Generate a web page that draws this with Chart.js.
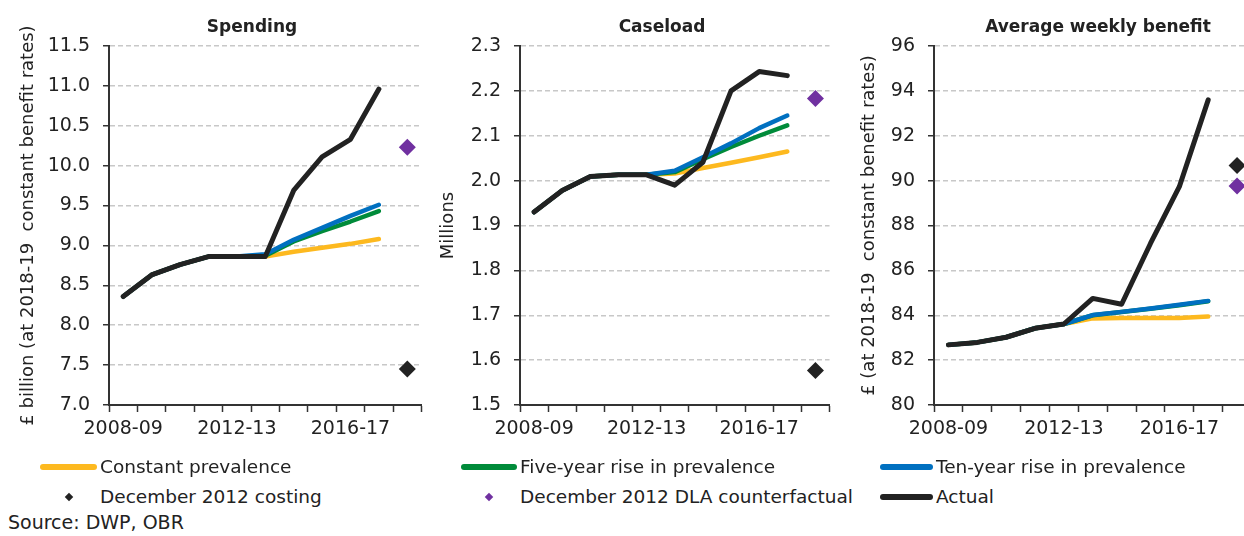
<!DOCTYPE html>
<html>
<head>
<meta charset="utf-8">
<script src="https://cdn.jsdelivr.net/npm/chart.js@4/dist/chart.umd.min.js"></script>
<style>
  html, body { margin:0; padding:0; background:#fff; width:1244px; height:536px; overflow:hidden; }
  body { position:relative; font-family: "DejaVu Sans", sans-serif; color:#222; }
  .cv { position:absolute; top:0; }
  .ptitle { position:absolute; top:16px; font-size:17px; font-weight:700; transform:translateX(-50%); white-space:nowrap; color:#222; }
  .leg { position:absolute; font-size:18.5px; white-space:nowrap; line-height:22px; }
  .leg .ln { position:absolute; top:8px; height:6px; border-radius:3px; }
  .leg .dm { position:absolute; top:8px; width:6px; height:6px; transform:rotate(45deg); }
  .src { position:absolute; left:8px; top:511px; font-size:19px; line-height:22px; }
</style>
</head>
<body>
<canvas id="c1" class="cv" style="left:0px" width="430" height="460"></canvas>
<canvas id="c2" class="cv" style="left:412px" width="426" height="460"></canvas>
<canvas id="c3" class="cv" style="left:830px" width="430" height="460"></canvas>

<div class="ptitle" style="left:252px">Spending</div>
<div class="ptitle" style="left:662px">Caseload</div>
<div class="ptitle" style="left:1098px">Average weekly benefit</div>

<div class="leg" style="left:40px;top:456px"><span class="ln" style="left:0;width:57px;background:#FDB91F"></span><span style="margin-left:60px">Constant prevalence</span></div>
<div class="leg" style="left:461px;top:456px"><span class="ln" style="left:0;width:56px;background:#008B3A"></span><span style="margin-left:59px">Five-year rise in prevalence</span></div>
<div class="leg" style="left:880px;top:456px"><span class="ln" style="left:0;width:53px;background:#0070C0"></span><span style="margin-left:56px">Ten-year rise in prevalence</span></div>
<div class="leg" style="left:40px;top:486px"><span class="dm" style="left:26px;background:#222"></span><span style="margin-left:60px">December 2012 costing</span></div>
<div class="leg" style="left:461px;top:486px"><span class="dm" style="left:25px;background:#7030A0"></span><span style="margin-left:59px">December 2012 DLA counterfactual</span></div>
<div class="leg" style="left:880px;top:486px"><span class="ln" style="left:0;width:53px;background:#222"></span><span style="margin-left:56px">Actual</span></div>
<div class="src">Source: DWP, OBR</div>

<script>
// ---- Data ----
const categories = ['2008-09','2009-10','2010-11','2011-12','2012-13','2013-14','2014-15','2015-16','2016-17','2017-18','2018-19'];
const tickLabelIdx = [0, 4, 8];

// Spending (£ billion)
const spendConstant = [8.36, 8.63, 8.76, 8.86, 8.86, 8.86, 8.92, 8.97, 9.02, 9.08, null];
const spendFive     = [8.36, 8.63, 8.76, 8.86, 8.86, 8.87, 9.05, 9.18, 9.30, 9.43, null];
const spendTen      = [8.36, 8.63, 8.76, 8.86, 8.86, 8.89, 9.07, 9.22, 9.37, 9.51, null];
const spendActual   = [8.36, 8.63, 8.76, 8.86, 8.86, 8.86, 9.69, 10.11, 10.33, 10.96, null];
const spendCosting  = [null, null, null, null, null, null, null, null, null, null, 7.45];
const spendCounter  = [null, null, null, null, null, null, null, null, null, null, 10.23];

// Caseload (millions)
const caseConstant = [1.93, 1.978, 2.009, 2.013, 2.013, 2.016, 2.028, 2.040, 2.052, 2.065, null];
const caseFive     = [1.93, 1.978, 2.009, 2.013, 2.013, 2.019, 2.048, 2.075, 2.100, 2.123, null];
const caseTen      = [1.93, 1.978, 2.009, 2.013, 2.013, 2.022, 2.052, 2.083, 2.117, 2.145, null];
const caseActual   = [1.93, 1.978, 2.009, 2.013, 2.013, 1.990, 2.041, 2.200, 2.243, 2.234, null];
const caseCosting  = [null, null, null, null, null, null, null, null, null, null, 1.577];
const caseCounter  = [null, null, null, null, null, null, null, null, null, null, 2.183];

// Average weekly benefit (£)
const awbConstant = [82.68, 82.79, 83.02, 83.42, 83.61, 83.86, 83.88, 83.88, 83.88, 83.94, null];
const awbFive     = [82.68, 82.79, 83.02, 83.42, 83.61, 84.00, 84.14, 84.29, 84.45, 84.62, null];
const awbTen      = [82.68, 82.79, 83.02, 83.42, 83.61, 84.01, 84.15, 84.30, 84.47, 84.64, null];
const awbActual   = [82.68, 82.79, 83.02, 83.42, 83.61, 84.75, 84.49, 87.20, 89.73, 93.60, null];
const awbCosting  = [null, null, null, null, null, null, null, null, null, null, 90.67];
const awbCounter  = [null, null, null, null, null, null, null, null, null, null, 89.76];

// ---- Styles ----
const COL = { constant:'#FDB91F', five:'#008B3A', ten:'#0070C0', actual:'#222222', costing:'#222222', counter:'#7030A0' };
const FONT = '"DejaVu Sans", sans-serif';

function lineDs(label, data, color, w, order) {
  return { type:'line', label, data, order, borderColor:color, backgroundColor:color, borderWidth:w,
           pointRadius:0, pointHoverRadius:0, tension:0, spanGaps:false, fill:false,
           borderCapStyle:'round', borderJoinStyle:'round' };
}
function pointDs(label, data, color, order) {
  return { type:'line', label, data, order, showLine:false, borderColor:color, backgroundColor:color,
           pointStyle:'rectRot', pointRadius:8.5, pointBorderWidth:0, pointHoverRadius:8.5 };
}

function makeChart(id, sets, yMin, yMax, yStep, decimals, yTitle, yAxisWidth, titlePad, rightPad) {
  const ctx = document.getElementById(id);
  return new Chart(ctx, {
    data: {
      labels: categories,
      datasets: [
        lineDs('Constant prevalence', sets[0], COL.constant, 4.5, 5),
        lineDs('Five-year rise in prevalence', sets[1], COL.five, 4.5, 4),
        lineDs('Ten-year rise in prevalence', sets[2], COL.ten, 4.5, 3),
        lineDs('Actual', sets[3], COL.actual, 5, 2),
        pointDs('December 2012 costing', sets[4], COL.costing, 1),
        pointDs('December 2012 DLA counterfactual', sets[5], COL.counter, 0)
      ]
    },
    options: {
      responsive:false, animation:false, clip:false,
      layout: { padding: { top:46, right:rightPad, left:0, bottom:0 } },
      plugins: { legend:{display:false}, tooltip:{enabled:false}, title:{display:false} },
      scales: {
        x: {
          type:'category', offset:true,
          grid: { offset:true, drawOnChartArea:false, drawTicks:true, tickLength:7, tickColor:'#333', tickWidth:1.5 },
          border: { display:true, color:'#333', width:2 },
          ticks: { autoSkip:false, maxRotation:0, minRotation:0, padding:6, color:'#222',
                   font:{ family:FONT, size:19 },
                   callback: function(v, i) { return tickLabelIdx.includes(i) ? categories[i] : ''; } },
          afterFit: function(s) { s.height = 55; }
        },
        y: {
          min:yMin, max:yMax,
          grid: { color:'#C8C8C8', lineWidth:1.5, drawTicks:true, tickLength:6, tickColor:'#333', tickWidth:1.5, tickBorderDash:[] },
          border: { display:true, color:'#333', width:2, dash:[5,3] },
          ticks: { stepSize:yStep, padding:13, color:'#222', font:{ family:FONT, size:19 },
                   callback: function(v) { return Number(v).toFixed(decimals); } },
          title: { display:true, text:yTitle, color:'#222', font:{ family:FONT, size:18 }, padding:{ top:titlePad, bottom:0 } },
          afterFit: function(s) { s.width = yAxisWidth; }
        }
      }
    }
  });
}

makeChart('c1', [spendConstant, spendFive, spendTen, spendActual, spendCosting, spendCounter],
  7, 11.5, 0.5, 1, '£ billion (at 2018-19  constant benefit rates)', 109, 18, 5);
makeChart('c2', [caseConstant, caseFive, caseTen, caseActual, caseCosting, caseCounter],
  1.5, 2.3, 0.1, 1, 'Millions', 108, 26, 4);
makeChart('c3', [awbConstant, awbFive, awbTen, awbActual, awbCosting, awbCounter],
  80, 96, 2, 0, '£ (at 2018-19  constant benefit rates)', 104, 29, 6);
</script>
</body>
</html>
